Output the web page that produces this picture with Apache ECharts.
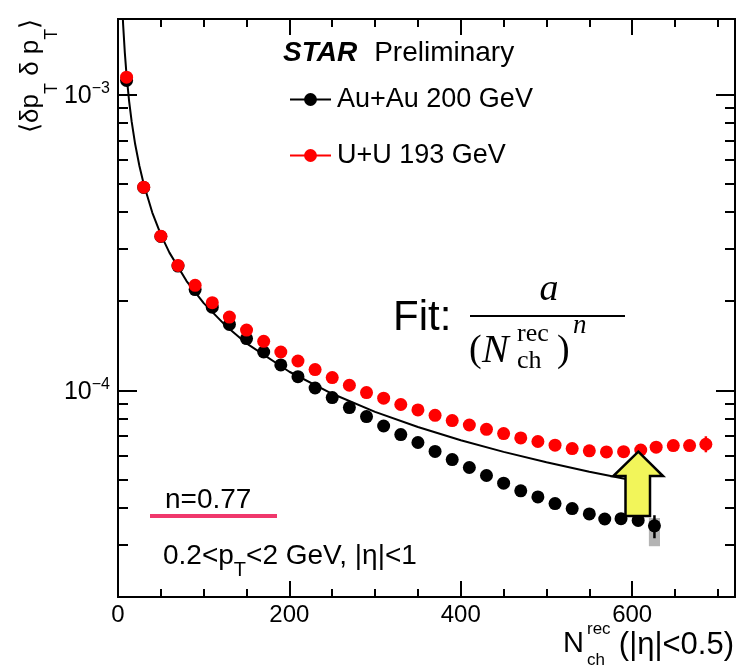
<!DOCTYPE html>
<html>
<head>
<meta charset="utf-8">
<script src="https://cdn.jsdelivr.net/npm/echarts@6/dist/echarts.min.js"></script>
<style>html,body{margin:0;padding:0;background:#fff}#c{width:736px;height:668px}</style>
</head>
<body>
<div id="c"></div>
<script>
// ---------------- data ----------------
const auauN = [10,30,50,70,90,110,130,150,170,190,210,230,250,270,290,310,330,350,370,390,410,430,450,470,490,510,530,550,568,587,607,626];
const auauV = [1.115e-3,4.85e-4,3.31e-4,2.63e-4,2.19e-4,1.91e-4,1.67e-4,1.495e-4,1.347e-4,1.218e-4,1.112e-4,1.018e-4,9.45e-5,8.74e-5,8.15e-5,7.57e-5,7.08e-5,6.66e-5,6.21e-5,5.83e-5,5.48e-5,5.15e-5,4.85e-5,4.57e-5,4.36e-5,4.14e-5,3.98e-5,3.82e-5,3.67e-5,3.68e-5,3.63e-5,3.48e-5];
const uuN = [10,30,50,70,90,110,130,150,170,190,210,230,250,270,290,310,330,350,370,390,410,430,450,470,490,510,530,550,570,590,610,628,648,667,686];
const uuV = [1.144e-3,4.86e-4,3.32e-4,2.644e-4,2.263e-4,1.978e-4,1.768e-4,1.598e-4,1.464e-4,1.347e-4,1.256e-4,1.175e-4,1.104e-4,1.040e-4,9.82e-5,9.40e-5,8.95e-5,8.58e-5,8.23e-5,7.90e-5,7.63e-5,7.38e-5,7.14e-5,6.90e-5,6.71e-5,6.52e-5,6.35e-5,6.24e-5,6.19e-5,6.20e-5,6.28e-5,6.42e-5,6.50e-5,6.50e-5,6.57e-5];
// statistical error bars: [N, low, high]
const auauStatErr = [[626, 3.16e-5, 3.78e-5]];
const uuStatErr = [[686, 6.17e-5, 6.99e-5]];
// systematic box: [N, low, high, half width in N]
const auauSysErr = [[626, 2.97e-5, 3.70e-5, 6.5]];
// fit curve a/(N)^n
const fitN = [5,6,8,10,13,16,20,25,30,40,50,60,80,100,125,150,200,250,300,350,400,450,500,550,600,620];
const fitV = [1.98e-3,1.72e-3,1.38e-3,1.16e-3,9.48e-4,8.08e-4,6.80e-4,5.73e-4,4.98e-4,3.99e-4,3.36e-4,2.92e-4,2.34e-4,1.97e-4,1.66e-4,1.44e-4,1.155e-4,9.73e-5,8.45e-5,7.51e-5,6.78e-5,6.19e-5,5.71e-5,5.30e-5,4.96e-5,4.83e-5];
// ticks
const xMajorTicks = [0,200,400,600];
const xMinorTicks = [50,100,150,250,300,350,450,500,550,650,700];
const yMajorTicks = [1e-4,1e-3];
const yMinorTicks = [2e-5,3e-5,4e-5,5e-5,6e-5,7e-5,8e-5,9e-5,2e-4,3e-4,4e-4,5e-4,6e-4,7e-4,8e-4,9e-4];
const seriesNames = ['Au+Au 200 GeV','U+U 193 GeV'];
const fitExponentLabel = 'n=0.77';
const cutsLabel = ['0.2<p','T','<2 GeV, |η|<1'];

// ---------------- chart ----------------
const FONT = '"Liberation Sans", Arial, Helvetica, sans-serif';
const SERIF = '"Liberation Serif", "Times New Roman", serif';
const X_MIN = 0, X_MAX = 720, Y_MIN = 2e-5, Y_MAX = 1.8e-3;

function xAx(pos, ticks, len, withLabels) {
  return {
    type: 'value', position: pos, min: X_MIN, max: X_MAX,
    axisLine: {show: true, onZero: false, lineStyle: {color: '#000', width: 2}},
    axisTick: {show: true, inside: true, length: len, customValues: ticks, lineStyle: {color: '#000', width: 2}},
    axisLabel: withLabels ? {show: true, customValues: xMajorTicks, color: '#000', fontFamily: FONT, fontSize: 24, margin: 6} : {show: false},
    splitLine: {show: false}, minorTick: {show: false}, minorSplitLine: {show: false}
  };
}
function yAx(pos, ticks, len, withLabels) {
  return {
    type: 'log', position: pos, min: Y_MIN, max: Y_MAX, logBase: 10,
    axisLine: {show: true, onZero: false, lineStyle: {color: '#000', width: 2}},
    axisTick: {show: true, inside: true, length: len, customValues: ticks, lineStyle: {color: '#000', width: 2}},
    axisLabel: withLabels ? {
      show: true, customValues: yMajorTicks, margin: 8,
      formatter: v => '{b|10}{s|−' + Math.round(-Math.log10(v)) + '}',
      rich: {
        b: {fontSize: 25, fontFamily: FONT, color: '#000', lineHeight: 28, verticalAlign: 'bottom'},
        s: {fontSize: 16, fontFamily: FONT, color: '#000', lineHeight: 16, verticalAlign: 'top'}
      }
    } : {show: false},
    splitLine: {show: false}, minorTick: {show: false}, minorSplitLine: {show: false}
  };
}

const chart = echarts.init(document.getElementById('c'), null, {renderer: 'canvas'});

const option = {
  animation: false,
  backgroundColor: '#fff',
  grid: {left: 118, right: 1, top: 19, bottom: 71, containLabel: false, outerBoundsMode: 'none'},
  title: {
    text: '{b|STAR}{r|Preliminary}', left: 283, top: 39, padding: 0,
    textStyle: {fontWeight: 'normal', rich: {
      b: {fontSize: 28, fontWeight: 'bold', fontStyle: 'italic', fontFamily: FONT, color: '#000'},
      r: {fontSize: 28, fontWeight: 'normal', fontFamily: FONT, color: '#000', padding: [0, 0, 0, 17]}
    }}
  },
  legend: {
    data: seriesNames, orient: 'vertical', left: 289, top: 86, padding: 0,
    itemWidth: 41, itemHeight: 16, itemGap: 29,
    textStyle: {fontFamily: FONT, fontSize: 27, color: '#000', padding: [0, 0, 0, 1]},
    lineStyle: {width: 2, opacity: 1},
    selectedMode: false
  },
  xAxis: [
    xAx('bottom', xMajorTicks, 16, true),
    xAx('bottom', xMinorTicks, 8, false),
    xAx('top', xMajorTicks, 16, false),
    xAx('top', xMinorTicks, 8, false)
  ],
  yAxis: [
    yAx('left', yMajorTicks, 19, true),
    yAx('left', yMinorTicks, 10, false),
    yAx('right', yMajorTicks, 19, false),
    yAx('right', yMinorTicks, 10, false)
  ],
  series: [
    {
      name: 'fit', type: 'line', xAxisIndex: 0, yAxisIndex: 0,
      data: fitN.map((n, i) => [n, fitV[i]]),
      symbol: 'none', showSymbol: false, clip: true, silent: true, z: 1,
      lineStyle: {color: '#000', width: 2}
    },
    {
      name: 'Au+Au sys', type: 'custom', xAxisIndex: 0, yAxisIndex: 0, z: 2, silent: true,
      data: auauSysErr,
      renderItem: (p, api) => {
        const x = api.value(0), lo = api.value(1), hi = api.value(2), hw = api.value(3);
        const a = api.coord([x - hw, hi]), b = api.coord([x + hw, lo]);
        return {type: 'rect', shape: {x: a[0], y: a[1], width: b[0] - a[0], height: b[1] - a[1]}, style: {fill: '#b4b4b4'}};
      }
    },
    {
      name: 'Au+Au stat', type: 'custom', xAxisIndex: 0, yAxisIndex: 0, z: 3, silent: true,
      data: auauStatErr,
      renderItem: (p, api) => {
        const x = api.value(0);
        const a = api.coord([x, api.value(1)]), b = api.coord([x, api.value(2)]);
        return {type: 'line', shape: {x1: a[0], y1: a[1], x2: b[0], y2: b[1]}, style: {stroke: '#000', lineWidth: 2.5}};
      }
    },
    {
      name: seriesNames[0], type: 'line', xAxisIndex: 0, yAxisIndex: 0, z: 3,
      data: auauN.map((n, i) => [n, auauV[i]]),
      symbol: 'circle', symbolSize: 13, showSymbol: true,
      itemStyle: {color: '#000'},
      lineStyle: {color: '#000', width: 0, opacity: 0}
    },
    {
      name: 'U+U stat', type: 'custom', xAxisIndex: 0, yAxisIndex: 0, z: 4, silent: true,
      data: uuStatErr,
      renderItem: (p, api) => {
        const x = api.value(0);
        const a = api.coord([x, api.value(1)]), b = api.coord([x, api.value(2)]);
        return {type: 'line', shape: {x1: a[0], y1: a[1], x2: b[0], y2: b[1]}, style: {stroke: '#ff0000', lineWidth: 2.5}};
      }
    },
    {
      name: seriesNames[1], type: 'line', xAxisIndex: 0, yAxisIndex: 0, z: 4,
      data: uuN.map((n, i) => [n, uuV[i]]),
      symbol: 'circle', symbolSize: 13, showSymbol: true,
      itemStyle: {color: '#ff0000'},
      lineStyle: {color: '#ff0000', width: 0, opacity: 0}
    }
  ],
  graphic: [
    // y axis title (rotated)
    {
      type: 'text', x: 32, y: 133, rotation: Math.PI / 2, z: 50,
      style: {
        text: '{m|⟨δp}{t|T}{m| δ p}{t|T}{m|⟩}', align: 'left', verticalAlign: 'middle',
        rich: {
          m: {fontFamily: FONT, fontSize: 26, color: '#000', lineHeight: 28, verticalAlign: 'top'},
          t: {fontFamily: FONT, fontSize: 18, color: '#000', lineHeight: 18, verticalAlign: 'top', padding: [25, 0, 0, 0]}
        }
      }
    },
    // x axis title
    {type: 'text', x: 563, y: 644, z: 50, style: {text: 'N', font: '29px ' + FONT, fill: '#000', align: 'left', verticalAlign: 'middle'}},
    {type: 'text', x: 587, y: 629, z: 50, style: {text: 'rec', font: '17px ' + FONT, fill: '#000', align: 'left', verticalAlign: 'middle'}},
    {type: 'text', x: 587, y: 660, z: 50, style: {text: 'ch', font: '17px ' + FONT, fill: '#000', align: 'left', verticalAlign: 'middle'}},
    {type: 'text', x: 734, y: 645, z: 50, style: {text: '(|η|<0.5)', font: '31px ' + FONT, fill: '#000', align: 'right', verticalAlign: 'middle'}},
    // Fit formula
    {type: 'text', x: 393, y: 318, z: 50, style: {text: 'Fit:', font: '42px ' + FONT, fill: '#000', align: 'left', verticalAlign: 'middle'}},
    {type: 'text', x: 549, y: 290, z: 50, style: {text: 'a', font: 'italic 38px ' + SERIF, fill: '#000', align: 'center', verticalAlign: 'middle'}},
    {type: 'line', z: 50, shape: {x1: 470, y1: 316, x2: 625, y2: 316}, style: {stroke: '#000', lineWidth: 2}},
    {type: 'text', x: 469, y: 351, z: 50, style: {text: '(', font: '38px ' + SERIF, fill: '#000', align: 'left', verticalAlign: 'middle'}},
    {type: 'text', x: 482, y: 351, z: 50, style: {text: 'N', font: 'italic 40px ' + SERIF, fill: '#000', align: 'left', verticalAlign: 'middle'}},
    {type: 'text', x: 517, y: 334, z: 50, style: {text: 'rec', font: '26px ' + SERIF, fill: '#000', align: 'left', verticalAlign: 'middle'}},
    {type: 'text', x: 517, y: 361, z: 50, style: {text: 'ch', font: '26px ' + SERIF, fill: '#000', align: 'left', verticalAlign: 'middle'}},
    {type: 'text', x: 557, y: 351, z: 50, style: {text: ')', font: '38px ' + SERIF, fill: '#000', align: 'left', verticalAlign: 'middle'}},
    {type: 'text', x: 573, y: 326, z: 50, style: {text: 'n', font: 'italic 27px ' + SERIF, fill: '#000', align: 'left', verticalAlign: 'middle'}},
    // n = 0.77 with coloured underline
    {type: 'text', x: 165, y: 500, z: 50, style: {text: fitExponentLabel, font: '28px ' + FONT, fill: '#000', align: 'left', verticalAlign: 'middle'}},
    {type: 'line', z: 50, shape: {x1: 150, y1: 516, x2: 277, y2: 516}, style: {stroke: '#f0386c', lineWidth: 4}},
    // kinematic cuts
    {
      type: 'text', x: 163, y: 557, z: 50,
      style: {
        text: '{m|' + cutsLabel[0] + '}{t|' + cutsLabel[1] + '}{m|' + cutsLabel[2] + '}', align: 'left', verticalAlign: 'middle',
        rich: {
          m: {fontFamily: FONT, fontSize: 28, color: '#000', lineHeight: 30, verticalAlign: 'top'},
          t: {fontFamily: FONT, fontSize: 20, color: '#000', lineHeight: 20, verticalAlign: 'top', padding: [18, 0, 0, 0]}
        }
      }
    },
    // yellow arrow
    {
      type: 'polygon', z: 60,
      shape: {points: [[638.3, 451.7], [663, 476], [650, 476], [650, 516], [625.5, 516], [625.5, 476], [613.3, 476]]},
      style: {fill: '#f2f55a', stroke: '#000', lineWidth: 2.5, lineJoin: 'miter'}
    }
  ]
};
chart.setOption(option);
</script>
</body>
</html>
